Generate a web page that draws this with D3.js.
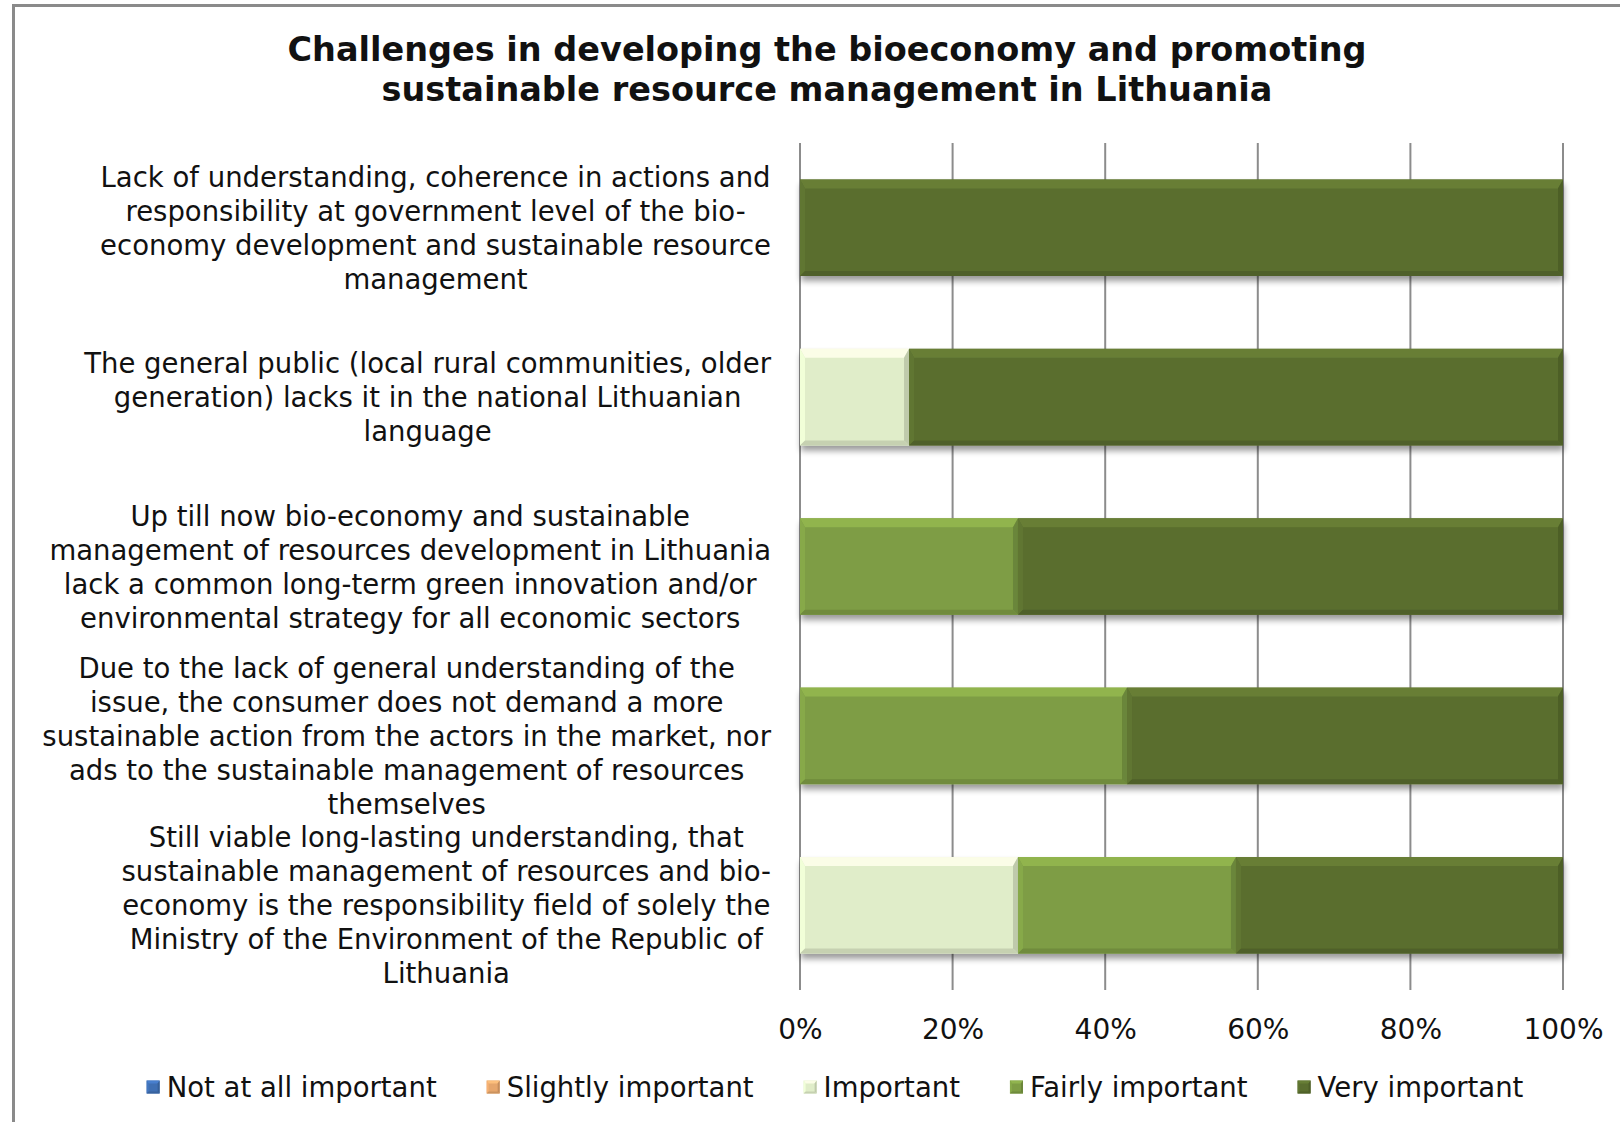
<!DOCTYPE html>
<html>
<head>
<meta charset="utf-8">
<script src="https://cdn.jsdelivr.net/npm/d3@7"></script>
<style>
  html, body { margin: 0; padding: 0; background: #fff; }
  svg { display: block; }
  text { font-family: "DejaVu Sans", Verdana, sans-serif; fill: #111; }
</style>
</head>
<body>
<svg id="chart" width="1620" height="1122"></svg>
<script>
// Survey answers: share of respondents per importance level (n = 7)
const titleLines = [
  "Challenges in developing the bioeconomy and promoting",
  "sustainable resource management in Lithuania"
];
const categories = [
  ["Lack of understanding, coherence in actions and",
   "responsibility at government level of the bio-",
   "economy development and sustainable resource",
   "management"],
  ["The general public (local rural communities, older",
   "generation) lacks it in the national Lithuanian",
   "language"],
  ["Up till now bio-economy and sustainable",
   "management of resources development in Lithuania",
   "lack a common long-term green innovation and/or",
   "environmental strategy for all economic sectors"],
  ["Due to the lack of general understanding of the",
   "issue, the consumer does not demand a more",
   "sustainable action from the actors in the market, nor",
   "ads to the sustainable management of resources",
   "themselves"],
  ["Still viable long-lasting understanding, that",
   "sustainable management of resources and bio-",
   "economy is the responsibility field of solely the",
   "Ministry of the Environment of the Republic of",
   "Lithuania"]
];
const seriesNames = ["Not at all important", "Slightly important", "Important", "Fairly important", "Very important"];
const notAtAllImportant = [0, 0, 0, 0, 0];
const slightlyImportant = [0, 0, 0, 0, 0];
const importantVals     = [0, 14.29, 0, 0, 28.57];
const fairlyImportant   = [0, 0, 28.57, 42.86, 28.57];
const veryImportant     = [100, 85.71, 71.43, 57.14, 42.86];
const tickValues = [0, 20, 40, 60, 80, 100];

const seriesColors = ["#3F6FB3", "#E6A66C", "#E0EDC9", "#7E9D44", "#5A6E2F"];

const rows = categories.map((c, i) => ({
  idx: i,
  "Not at all important": notAtAllImportant[i],
  "Slightly important": slightlyImportant[i],
  "Important": importantVals[i],
  "Fairly important": fairlyImportant[i],
  "Very important": veryImportant[i]
}));

const svg = d3.select("#chart");

// outer frame
svg.append("rect")
  .attr("x", 13.5).attr("y", 5.5)
  .attr("width", 1640).attr("height", 1140)
  .attr("fill", "#fff").attr("stroke", "#8a8a8a").attr("stroke-width", 3);

const defs = svg.append("defs");
const shadow = defs.append("filter").attr("id", "barShadow")
  .attr("x", "-5%").attr("y", "-20%").attr("width", "110%").attr("height", "150%");
shadow.append("feGaussianBlur").attr("in", "SourceAlpha").attr("stdDeviation", 3).attr("result", "b");
shadow.append("feOffset").attr("in", "b").attr("dx", 1).attr("dy", 5).attr("result", "o");
shadow.append("feComponentTransfer").attr("in", "o").attr("result", "s")
  .append("feFuncA").attr("type", "linear").attr("slope", 0.4);
const merge = shadow.append("feMerge");
merge.append("feMergeNode").attr("in", "s");
merge.append("feMergeNode").attr("in", "SourceGraphic");

const x = d3.scaleLinear().domain([0, 100]).range([800, 1563]);
const y = d3.scaleBand().domain(d3.range(categories.length)).range([143, 990])
  .paddingInner(0.43).paddingOuter(0.215);

// title
svg.append("g").selectAll("text").data(titleLines).join("text")
  .attr("x", 827).attr("y", (d, i) => 49 + i * 40)
  .attr("text-anchor", "middle").attr("dominant-baseline", "central")
  .style("font-weight", "bold").style("font-size", "33.5px")
  .text(d => d);

// vertical gridlines (including the 0% axis line)
svg.append("g").selectAll("line").data(tickValues).join("line")
  .attr("x1", d => x(d)).attr("x2", d => x(d))
  .attr("y1", 143).attr("y2", 990)
  .attr("stroke", "#8c8c8c").attr("stroke-width", 2);

// x axis labels
const xAxis = d3.axisBottom(x).tickValues(tickValues).tickSize(0).tickPadding(0)
  .tickFormat(d => d + "%");
const gx = svg.append("g").attr("transform", "translate(0,1016)").call(xAxis);
gx.select(".domain").remove();
gx.selectAll("text").attr("font-family", null).attr("font-size", null)
  .style("font-size", "28px").attr("dy", null).attr("y", 13)
  .attr("dominant-baseline", "central").style("fill", "#111");

// bevelled segment
function bevelRect(g, x0, y0, w, h, color, bt = 9, bs = 5, bb = 5) {
  const x1 = x0 + w, y1 = y0 + h;
  const c = d3.color(color);
  g.append("rect").attr("x", x0).attr("y", y0).attr("width", w).attr("height", h).attr("fill", color);
  const pts = a => a.map(p => p.join(",")).join(" ");
  g.append("polygon").attr("points", pts([[x0, y0], [x1, y0], [x1 - bs, y0 + bt], [x0 + bs, y0 + bt]]))
    .attr("fill", c.brighter(0.45)).attr("opacity", 0.85);
  g.append("polygon").attr("points", pts([[x0, y0], [x0 + bs, y0 + bt], [x0 + bs, y1 - bb], [x0, y1]]))
    .attr("fill", c.brighter(0.2));
  g.append("polygon").attr("points", pts([[x1, y0], [x1 - bs, y0 + bt], [x1 - bs, y1 - bb], [x1, y1]]))
    .attr("fill", c.darker(0.45));
  g.append("polygon").attr("points", pts([[x0, y1], [x0 + bs, y1 - bb], [x1 - bs, y1 - bb], [x1, y1]]))
    .attr("fill", c.darker(0.35));
}

const stacked = d3.stack().keys(seriesNames)(rows);
const barsG = svg.append("g");
rows.forEach((r, i) => {
  const rowG = barsG.append("g").attr("filter", "url(#barShadow)");
  stacked.forEach((s, k) => {
    const d = s[i];
    if (d[1] - d[0] <= 0) return;
    bevelRect(rowG, x(d[0]), y(i), x(d[1]) - x(d[0]), y.bandwidth(), seriesColors[k]);
  });
});

// category labels: each block centred and right-aligned to the plot
const labelRight = 771, lineH = 34;
const labG = svg.append("g");
categories.forEach((lines, i) => {
  const g = labG.append("g");
  const ts = g.selectAll("text").data(lines).join("text")
    .style("font-size", "27.5px")
    .attr("text-anchor", "middle").attr("dominant-baseline", "central")
    .attr("y", (d, j) => y(i) + y.bandwidth() / 2 + (j - (lines.length - 1) / 2) * lineH)
    .text(d => d);
  let maxW = 0;
  ts.each(function () { maxW = Math.max(maxW, this.getComputedTextLength()); });
  ts.attr("x", labelRight - maxW / 2);
});

// legend
const legG = svg.append("g");
const legendY = 1087, markerS = 13, markerGap = 7, itemGap = 50;
let cursor = 0;
seriesNames.forEach((name, k) => {
  const ig = legG.append("g");
  bevelRect(ig, 0, -markerS / 2, markerS, markerS, seriesColors[k], 3, 2, 2);
  const t = ig.append("text").attr("x", markerS + markerGap).attr("y", 0)
    .attr("dominant-baseline", "central").style("font-size", "27.5px").text(name);
  const w = markerS + markerGap + t.node().getComputedTextLength();
  ig.attr("transform", `translate(${cursor},${legendY})`);
  cursor += w + itemGap;
});
const legendW = cursor - itemGap;
legG.attr("transform", `translate(${835 - legendW / 2},0)`);
</script>
</body>
</html>
